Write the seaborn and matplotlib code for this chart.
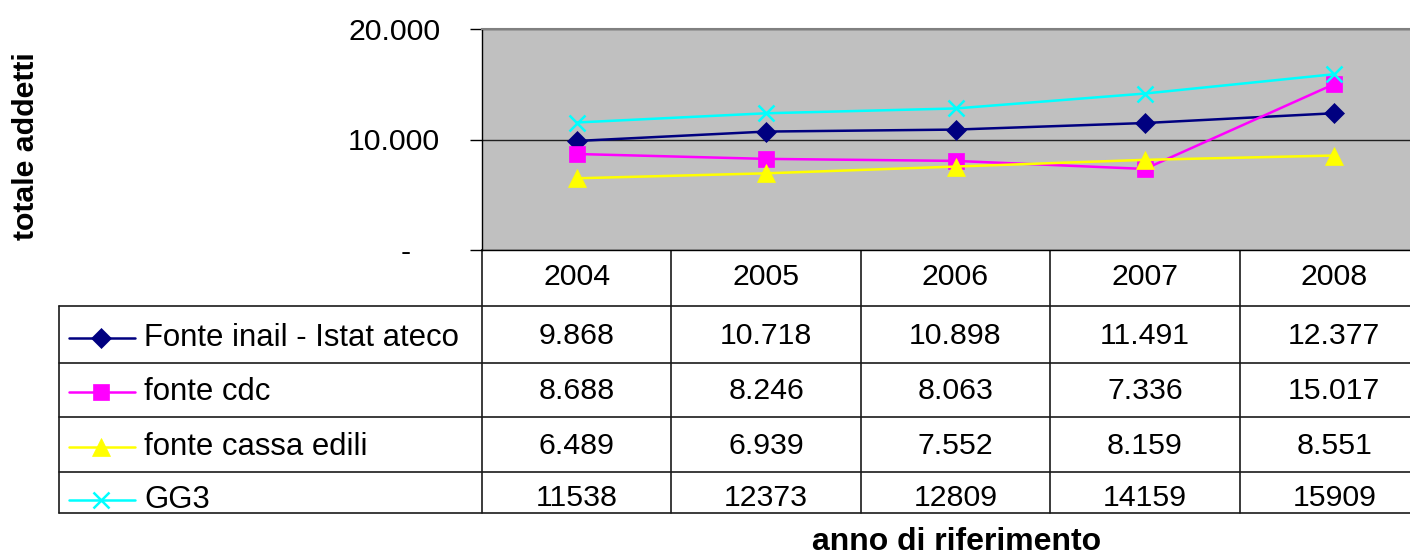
import matplotlib
matplotlib.use('Agg')
import matplotlib.pyplot as plt
import seaborn as sns
import numpy as np
from matplotlib.lines import Line2D
from matplotlib.transforms import ScaledTranslation

# ---- data ----
years = [2004, 2005, 2006, 2007, 2008]
series_names = ["Fonte inail - Istat ateco", "fonte cdc", "fonte cassa edili", "GG3"]
inail = [9868, 10718, 10898, 11491, 12377]
cdc = [8688, 8246, 8063, 7336, 15017]
cassa = [6489, 6939, 7552, 8159, 8551]
gg3 = [11538, 12373, 12809, 14159, 15909]
y_ticks = [0, 10000, 20000]
y_tick_labels = ["-", "10.000", "20.000"]
y_label = "totale addetti"
x_label = "anno di riferimento"

# ---- styles ----
colors = ["#000080", "#FF00FF", "#FFFF00", "#00FFFF"]
markers = ["D", "s", "^", "x"]
msizes = [10, 11, 12.5, 11.5]
FS = 21.8
LW = 1.8

sns.set_theme(style="white")
plt.rcParams['font.family'] = ['Liberation Sans', 'DejaVu Sans']

W, H = 1410, 556
fig = plt.figure(figsize=(W / 100, H / 100), dpi=100)
L, R, T, B = 482, 1429, 29, 250
ax = fig.add_axes([L / W, 1 - B / H, (R - L) / W, (B - T) / H])
ax.set_facecolor('#C0C0C0')

x = np.arange(len(years))
all_series = [inail, cdc, cassa, gg3]
for vals, c, m, ms in zip(all_series, colors, markers, msizes):
    sns.lineplot(x=x, y=vals, ax=ax, color=c, marker=m, markersize=ms,
                 linewidth=LW, markeredgecolor=c,
                 markeredgewidth=1.8 if m == 'x' else 0.5, zorder=3)

ax.set_xlim(-0.5, len(years) - 0.5)
ax.set_ylim(y_ticks[0], y_ticks[-1])
ax.set_xticks([])
ax.set_yticks(y_ticks)
ax.set_yticklabels(y_tick_labels)
ax.set_xlabel("")
ax.set_ylabel("")
ax.tick_params(axis='y', direction='out', length=9, width=1, color='black',
               pad=21, labelsize=FS, labelcolor='black', left=True)
ax.yaxis.grid(True, color='#202020', linewidth=1.0)
ax.set_axisbelow(True)
for s in ['left', 'bottom']:
    ax.spines[s].set_color('black')
    ax.spines[s].set_linewidth(1.0)
ax.spines['top'].set_color('#808080')
ax.spines['top'].set_linewidth(1.5)
ax.spines['right'].set_visible(False)

# shift the "-" label like Excel accounting format
zero_lab = ax.get_yticklabels()[0]
zero_lab.set_transform(zero_lab.get_transform() + ScaledTranslation(-0.30, 0, fig.dpi_scale_trans))

# ---- data table below the plot ----
tab = fig.add_axes([0, 0, 1, 1], zorder=-1)
tab.set_xlim(0, W)
tab.set_ylim(H, 0)
tab.axis('off')

fig.canvas.draw()
bounds = [ax.transData.transform((xb, 0))[0] for xb in np.arange(len(years) + 1) - 0.5]
centers = [ax.transData.transform((xi, 0))[0] for xi in x]

table_left = 59
header_top, header_bot = 250, 306
row_lines = [306, 363, 417, 472, 513]
row_text_y = [336, 391, 446, 498]
label_text_y = [338, 392, 447, 500]
lc, lw = '#1a1a1a', 1.2

tab.plot([bounds[0], W], [header_top, header_top], color=lc, lw=lw)
for yy in row_lines:
    tab.plot([table_left, W], [yy, yy], color=lc, lw=lw)
tab.plot([table_left, table_left], [header_bot, row_lines[-1]], color=lc, lw=lw)
for bx in bounds[:-1]:
    tab.plot([bx, bx], [header_top, row_lines[-1]], color=lc, lw=lw)

for cx, yr in zip(centers, years):
    tab.text(cx, 277, str(yr), ha='center', va='center', fontsize=FS, color='black')

for i, (name, vals, c, m, ms) in enumerate(zip(series_names, all_series, colors, markers, msizes)):
    ty = label_text_y[i]
    tab.add_line(Line2D([69, 135], [ty, ty], color=c, lw=LW))
    tab.add_line(Line2D([101], [ty], color=c, marker=m, markersize=ms,
                        markeredgecolor=c, markerfacecolor=c,
                        markeredgewidth=1.8 if m == 'x' else 0.5))
    tab.text(144, ty, name, ha='left', va='center', fontsize=FS + 0.6, color='black')
    for cx, v in zip(centers, vals):
        s = str(v) if name == "GG3" else f"{v:,}".replace(",", ".")
        tab.text(cx, row_text_y[i], s, ha='center', va='center', fontsize=FS, color='black')

fig.text(26 / W, 1 - 146 / H, y_label, rotation=90, ha='center', va='center',
         fontsize=FS, fontweight='bold', color='black')
fig.text(957 / W, 1 - 542 / H, x_label, ha='center', va='center',
         fontsize=FS + 1.2, fontweight='bold', color='black')

fig.savefig('out.png', dpi=100)
